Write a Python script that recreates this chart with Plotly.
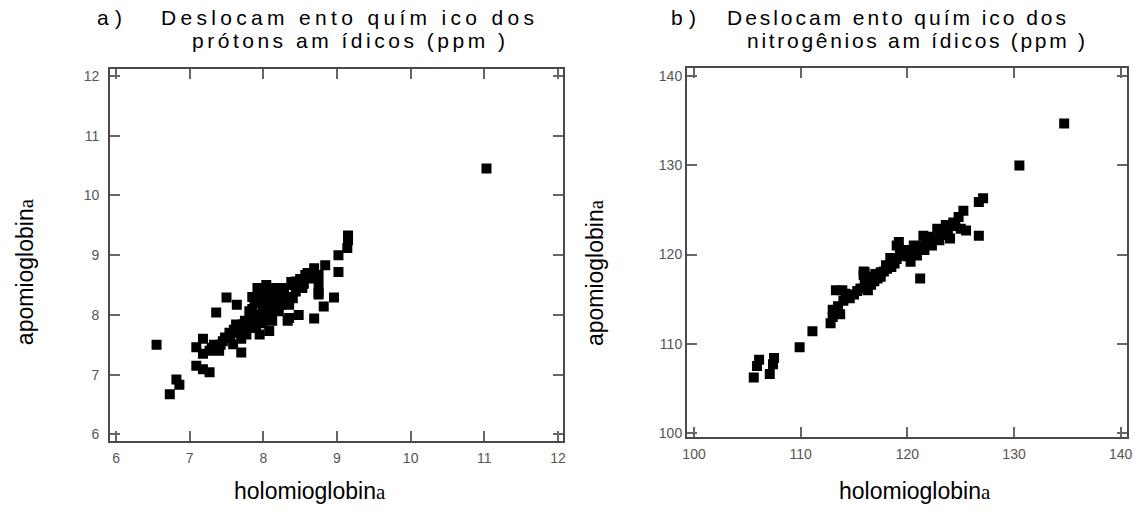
import json
import plotly.graph_objects as go

# Amide proton shifts (ppm): holomyoglobin vs apomyoglobin
holo_h = [6.55, 6.73, 6.82, 6.86, 7.09, 7.18, 7.27, 7.09, 7.18, 7.18, 7.27, 7.36, 7.50, 7.64,
          7.38, 7.45, 7.54, 7.59, 7.70, 7.63, 7.72, 7.77, 7.88, 7.95, 7.90, 7.99, 8.04, 8.08,
          8.17, 8.26, 8.24, 8.33, 8.40, 8.44, 8.48, 8.53, 8.57, 8.69, 8.75, 8.84, 8.75, 8.75,
          8.82, 8.69, 8.96, 9.02, 9.02, 9.14, 9.15, 9.15, 11.03, 7.81, 7.88, 7.95, 7.99, 8.08,
          8.12, 8.17, 8.35, 8.44, 7.81, 8.01, 7.90, 8.21, 8.62, 8.40, 8.08, 7.30, 7.42, 7.48,
          8.22, 8.35, 8.75, 7.55, 7.60, 7.68, 7.75, 7.82, 7.85, 7.92, 7.97, 8.02, 8.05, 8.10,
          8.15, 8.20, 8.28, 8.32, 8.38, 8.45, 8.50, 8.55, 8.60, 8.65, 7.85, 7.92, 7.98, 8.12,
          7.70, 7.40, 7.33]
apo_h = [7.50, 6.67, 6.92, 6.83, 7.15, 7.09, 7.04, 7.46, 7.60, 7.35, 7.40, 8.04, 8.29, 8.17,
         7.45, 7.56, 7.70, 7.51, 7.37, 7.84, 7.84, 7.67, 7.92, 7.67, 8.28, 8.12, 8.50, 7.95,
         8.34, 8.39, 8.17, 7.90, 8.28, 8.56, 8.00, 8.45, 8.67, 8.78, 8.67, 8.83, 8.50, 8.34,
         8.14, 7.94, 8.29, 8.72, 9.00, 9.12, 9.25, 9.33, 10.45, 8.06, 8.23, 8.39, 7.86, 8.17,
         8.06, 8.45, 8.17, 8.39, 7.78, 8.28, 7.78, 8.06, 8.61, 8.50, 7.73, 7.45, 7.50, 7.62,
         8.17, 7.95, 8.37, 7.62, 7.75, 7.70, 7.90, 7.95, 8.10, 8.00, 8.20, 8.05, 8.35, 8.25,
         8.15, 8.30, 8.45, 8.30, 8.55, 8.48, 8.60, 8.52, 8.70, 8.62, 8.30, 8.45, 7.95, 7.90,
         7.60, 7.40, 7.50]

# Amide nitrogen shifts (ppm): holomyoglobin vs apomyoglobin
holo_n = [105.6, 105.9, 106.1, 107.1, 107.4, 107.5, 109.9, 111.1, 112.8, 113.0, 113.5, 113.3,
          113.9, 114.6, 115.3, 115.9, 116.6, 117.2, 118.1, 118.4, 119.2, 119.5, 115.9, 116.9,
          117.8, 119.7, 120.3, 121.2, 120.9, 121.5, 121.5, 120.6, 121.6, 122.3, 123.0, 122.8,
          123.6, 124.3, 125.5, 125.25, 126.7, 126.7, 127.1, 130.5, 134.7, 124.0, 125.0, 113.0,
          116.3, 117.5, 118.8, 120.0, 122.0, 123.3, 114.2, 113.7, 114.0, 115.0, 115.6, 116.0,
          116.5, 117.0, 117.5, 118.0, 118.5, 119.0, 119.3, 120.0, 120.5, 121.0, 121.8, 122.5,
          123.2, 123.8, 124.5, 124.8, 119.0, 116.0, 116.2]
apo_n = [106.2, 107.5, 108.2, 106.6, 107.7, 108.4, 109.6, 111.4, 112.3, 113.8, 114.2, 116.0,
         116.0, 115.1, 115.9, 117.7, 116.6, 117.3, 118.4, 119.6, 121.4, 120.3, 118.1, 117.0,
         118.1, 119.9, 119.2, 117.3, 119.9, 121.0, 122.1, 121.0, 120.5, 121.0, 121.6, 122.9,
         123.3, 123.6, 122.7, 124.9, 122.1, 125.9, 126.3, 130.0, 134.7, 121.8, 122.9, 113.0,
         116.0, 117.5, 119.0, 120.5, 122.0, 122.5, 115.6, 113.3, 114.8, 115.5, 116.2, 116.8,
         117.2, 117.8, 118.0, 118.8, 118.6, 119.5, 120.0, 119.8, 120.2, 120.6, 121.5, 121.8,
         122.2, 122.5, 123.2, 124.2, 121.0, 118.0, 117.5]

ticks_h = [6, 7, 8, 9, 10, 11, 12]
ticks_n = [100, 110, 120, 130, 140]

title_a1 = "Deslocam ento quím ico dos"
title_a2 = "prótons am ídicos (ppm )"
title_b1 = "Deslocam ento quím ico dos"
title_b2 = "nitrogênios am ídicos (ppm )"
x_title = 'holomioglobin<span style="font-family:Liberation Serif;font-size:21px">a</span>'
y_title = 'apomioglobin<span style="font-family:Liberation Serif;font-size:21px">a</span>'

W, H = 1145, 510


def px(x):
    return x / W


def py(y):
    return 1 - y / H


fig = go.Figure()
marker = dict(symbol="square", size=10, color="black", line=dict(width=0))
fig.add_trace(go.Scatter(x=holo_h, y=apo_h, mode="markers", marker=marker,
                         xaxis="x", yaxis="y", showlegend=False))
fig.add_trace(go.Scatter(x=holo_n, y=apo_n, mode="markers", marker=marker,
                         xaxis="x2", yaxis="y2", showlegend=False))

axis_common = dict(showline=True, linecolor="#4a4a4a", linewidth=2, mirror="ticks",
                   ticks="inside", ticklen=10, tickwidth=1.5, tickcolor="#666",
                   showgrid=False, zeroline=False,
                   tickfont=dict(family="Liberation Sans", size=14, color="#555"))

fig.update_layout(
    width=W, height=H, margin=dict(l=0, r=0, t=0, b=0),
    paper_bgcolor="white", plot_bgcolor="white",
    xaxis=dict(domain=[px(106), px(563)], range=[5.919, 12.07], tickvals=ticks_h,
               anchor="y", ticklabelstandoff=4, **axis_common),
    yaxis=dict(domain=[py(444), py(69)], range=[5.894, 12.113], tickvals=ticks_h,
               anchor="x", ticklabelstandoff=6, **axis_common),
    xaxis2=dict(domain=[px(688), px(1132)], range=[99.34, 140.6], tickvals=ticks_n,
                anchor="y2", ticklabelstandoff=4, **axis_common),
    yaxis2=dict(domain=[py(440), py(68)], range=[99.56, 140.89], tickvals=ticks_n,
                anchor="x2", ticklabelstandoff=0, **axis_common),
)

title_font = dict(family="Liberation Sans", size=21, color="black")
label_font = dict(family="Liberation Sans", size=23, color="black")

# (text, x, y, anchor, font, angle, stretched width)
labels = [
    ("a)", 92, 17, "left", title_font, 0, 25),
    (title_a1, 156, 17, "left", title_font, 0, 373),
    (title_a2, 188, 40, "left", title_font, 0, 313),
    ("b)", 671, 17, "left", title_font, 0, 25),
    (title_b1, 727, 17, "left", title_font, 0, 339),
    (title_b2, 748, 40, "left", title_font, 0, 338),
    (x_title, 308, 495, "center", label_font, 0, None),
    (x_title, 918, 495, "center", label_font, 0, None),
    (y_title, 20, 273, "center", label_font, -90, None),
    (y_title, 596, 274, "center", label_font, -90, None),
]

for text, x, y, anchor, font, angle, _ in labels:
    fig.add_annotation(text=text, x=px(x), y=py(y), xref="paper", yref="paper",
                       xanchor=anchor, yanchor="middle", align="left",
                       showarrow=False, font=font, textangle=angle, borderpad=0)

widths = json.dumps([w for *_, w in labels])
post = """
var gd = document.getElementById('{plot_id}');
var w = %s;
gd.querySelectorAll('.annotation-text').forEach(function(t, i) {
  if (w[i]) { t.setAttribute('textLength', w[i]); t.setAttribute('lengthAdjust', 'spacing'); }
});
""" % widths

fig.write_html("out.html", post_script=post)
